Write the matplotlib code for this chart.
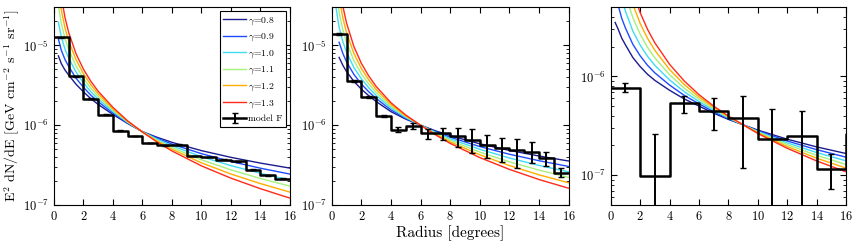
#Radial profiles for gamma values vs model F
#three regions, log y axis

import numpy as np
import matplotlib
matplotlib.use("Agg")
import matplotlib.pyplot as plt

plt.rcParams["font.family"] = "serif"
plt.rcParams["font.serif"] = ["cmr10"]
plt.rcParams["mathtext.fontset"] = "cm"
plt.rcParams["axes.formatter.use_mathtext"] = True
plt.rcParams["axes.unicode_minus"] = False

gammas = [0.8, 0.9, 1.0, 1.1, 1.2, 1.3]
colors = ["#1c1c8f", "#1f4cff", "#3fdcf5", "#a6f07c", "#ffae00", "#ff2a1a"]

# radius grid of the model curves (degrees)
radius = [0.3, 0.5, 0.75, 1, 1.5, 2, 2.5, 3, 4, 5, 6, 7, 8, 10, 12, 14, 16]
nan = float("nan")

# log10 of E^2 dN/dE, one row per gamma
logflux_p1 = [
  [-5.131, -5.229, -5.310, -5.372, -5.488, -5.582, -5.668, -5.740, -5.866, -5.979, -6.081, -6.152, -6.215, -6.319, -6.403, -6.475, -6.538],
  [-4.921, -5.062, -5.178, -5.265, -5.412, -5.525, -5.624, -5.707, -5.848, -5.973, -6.082, -6.164, -6.237, -6.357, -6.455, -6.539, -6.613],
  [-4.711, -4.895, -5.047, -5.159, -5.335, -5.469, -5.581, -5.674, -5.830, -5.966, -6.083, -6.176, -6.258, -6.395, -6.507, -6.603, -6.688],
  [-4.501, -4.727, -4.915, -5.052, -5.259, -5.412, -5.537, -5.641, -5.813, -5.960, -6.084, -6.189, -6.280, -6.434, -6.560, -6.668, -6.764],
  [-4.291, -4.560, -4.784, -4.946, -5.182, -5.356, -5.494, -5.608, -5.795, -5.953, -6.085, -6.201, -6.301, -6.472, -6.612, -6.732, -6.839],
  [-4.081, -4.393, -4.652, -4.839, -5.106, -5.299, -5.450, -5.575, -5.777, -5.947, -6.086, -6.213, -6.323, -6.510, -6.664, -6.796, -6.914],
]
logflux_p2 = [
  [nan, -5.150, -5.248, -5.328, -5.451, -5.548, -5.630, -5.703, -5.830, -5.924, -6.000, -6.070, -6.131, -6.233, -6.316, -6.386, -6.449],
  [nan, -4.961, -5.099, -5.206, -5.364, -5.483, -5.581, -5.665, -5.808, -5.914, -6.000, -6.080, -6.150, -6.268, -6.364, -6.445, -6.517],
  [-4.535, -4.772, -4.951, -5.084, -5.277, -5.418, -5.531, -5.627, -5.785, -5.904, -6.000, -6.090, -6.170, -6.302, -6.411, -6.504, -6.585],
  [-4.300, -4.584, -4.802, -4.962, -5.189, -5.354, -5.482, -5.590, -5.763, -5.893, -6.000, -6.100, -6.189, -6.337, -6.459, -6.563, -6.654],
  [-4.065, -4.395, -4.654, -4.840, -5.102, -5.289, -5.432, -5.552, -5.740, -5.883, -6.000, -6.110, -6.209, -6.371, -6.506, -6.622, -6.722],
  [-3.829, -4.206, -4.505, -4.718, -5.015, -5.224, -5.383, -5.514, -5.718, -5.873, -6.000, -6.120, -6.228, -6.406, -6.554, -6.681, -6.790],
]
logflux_p3 = [
  [-5.454, -5.520, -5.613, -5.680, -5.808, -5.900, -5.978, -6.040, -6.140, -6.228, -6.300, -6.372, -6.435, -6.543, -6.635, -6.713, -6.780],
  [-5.147, -5.277, -5.413, -5.510, -5.674, -5.791, -5.887, -5.964, -6.087, -6.192, -6.277, -6.358, -6.428, -6.550, -6.653, -6.741, -6.817],
  [-4.840, -5.034, -5.213, -5.340, -5.539, -5.682, -5.796, -5.888, -6.035, -6.155, -6.254, -6.343, -6.421, -6.557, -6.672, -6.770, -6.854],
  [-4.534, -4.792, -5.012, -5.170, -5.405, -5.572, -5.705, -5.812, -5.982, -6.119, -6.230, -6.329, -6.415, -6.563, -6.690, -6.798, -6.891],
  [-4.227, -4.549, -4.812, -5.000, -5.270, -5.463, -5.614, -5.736, -5.930, -6.082, -6.207, -6.314, -6.408, -6.570, -6.709, -6.827, -6.928],
  [-3.920, -4.306, -4.612, -4.830, -5.136, -5.354, -5.523, -5.660, -5.877, -6.046, -6.184, -6.300, -6.401, -6.577, -6.727, -6.855, -6.965],
]

# model F binned data
edges_p1 = list(range(0, 17))
vals_p1 = [1.26e-5, 4.1e-6, 2.14e-6, 1.36e-6, 8.5e-7, 7.3e-7, 6.0e-7, 5.6e-7,
           5.7e-7, 4.12e-7, 4.0e-7, 3.7e-7, 3.53e-7, 2.78e-7, 2.36e-7, 2.14e-7]
centers_p1 = [i + 0.5 for i in range(16)]
lo_p1 = [v * 0.99 for v in vals_p1]
hi_p1 = [v * 1.01 for v in vals_p1]

edges_p2 = list(range(0, 17))
vals_p2 = [1.39e-5, 3.6e-6, 2.25e-6, 1.30e-6, 8.8e-7, 9.8e-7, 8.0e-7, 7.9e-7,
           7.3e-7, 6.6e-7, 5.7e-7, 5.2e-7, 4.95e-7, 4.6e-7, 3.9e-7, 2.5e-7]
centers_p2 = [i + 0.5 for i in range(16)]
hi_p2 = [1.42e-5, 3.7e-6, 2.3e-6, 1.35e-6, 9.5e-7, 1.06e-6, 8.9e-7, 9.3e-7,
         9.2e-7, 8.9e-7, 7.6e-7, 6.9e-7, 6.8e-7, 6.1e-7, 4.67e-7, 2.87e-7]
lo_p2 = [1.36e-5, 3.5e-6, 2.2e-6, 1.25e-6, 8.2e-7, 8.9e-7, 6.7e-7, 6.5e-7,
         5.4e-7, 4.5e-7, 3.85e-7, 3.45e-7, 2.95e-7, 3.4e-7, 3.1e-7, 2.25e-7]

edges_p3 = list(range(0, 19, 2))
vals_p3 = [7.66e-7, 9.8e-8, 5.4e-7, 4.5e-7, 3.8e-7, 2.3e-7, 2.5e-7, 1.17e-7, 2.6e-7]
centers_p3 = [1, 3, 5, 7, 9, 11, 13, 15]
hi_p3 = [8.5e-7, 2.6e-7, 6.35e-7, 6.1e-7, 6.35e-7, 4.67e-7, 4.5e-7, 1.64e-7]
lo_p3 = [6.9e-7, 1e-9, 4.3e-7, 2.9e-7, 1.19e-7, 1e-9, 1e-9, 7.3e-8]


def panel(ax, logflux, edges, vals, centers, lo, hi, ylim):
  for g, c, lf in zip(gammas, colors, logflux):
    ax.plot(radius, 10 ** np.array(lf), color=c, lw=1, label=r"$\gamma$=%.1f" % g)
  step, = ax.plot(edges, list(vals) + [vals[-1]], drawstyle="steps-post", color="k", lw=1.8)
  v = np.array(vals[:len(centers)])
  yerr = [v - np.array(lo), np.array(hi) - v]
  eb = ax.errorbar(centers, v, yerr=yerr, fmt="none", ecolor="k", elinewidth=1.4, capsize=2, capthick=1)
  ax.set_yscale("log")
  ax.set_xlim(0, 16)
  ax.set_ylim(*ylim)
  ax.set_xticks(range(0, 17, 2))
  ax.tick_params(which="both", direction="in", top=True, right=True, labelsize=9)
  ax.tick_params(which="major", length=4)
  ax.tick_params(which="minor", length=2)
  for s in ax.spines.values():
    s.set_linewidth(0.8)
  return step, eb


fig = plt.figure(figsize=(8.58, 2.48), dpi=100)
ax1 = fig.add_axes([0.0629, 0.1734, 0.2751, 0.797])
ax2 = fig.add_axes([0.3866, 0.1734, 0.2762, 0.797])
ax3 = fig.add_axes([0.7118, 0.1734, 0.2742, 0.797])

step, eb = panel(ax1, logflux_p1, edges_p1, vals_p1, centers_p1, lo_p1, hi_p1, (1e-7, 3e-5))
panel(ax2, logflux_p2, edges_p2, vals_p2, centers_p2, lo_p2, hi_p2, (1e-7, 3e-5))
panel(ax3, logflux_p3, edges_p3, vals_p3, centers_p3, lo_p3, hi_p3, (5e-8, 5e-6))

handles, labels = ax1.get_legend_handles_labels()
handles = handles[:6] + [(step, eb)]
labels = labels[:6] + ["model F"]
leg = ax1.legend(handles, labels, loc="upper right", fontsize=7, fancybox=False,
                 edgecolor="k", framealpha=1, handlelength=2.3, labelspacing=0.5,
                 borderaxespad=0.4, handletextpad=0.2)
leg.get_frame().set_linewidth(0.8)

ax1.set_ylabel(r"E$^2$ dN/dE [GeV cm$^{-2}$ s$^{-1}$ sr$^{-1}$]", fontsize=10, labelpad=1)
ax2.set_xlabel("Radius [degrees]", fontsize=11, labelpad=2)

plt.savefig("out.png", dpi=100)
